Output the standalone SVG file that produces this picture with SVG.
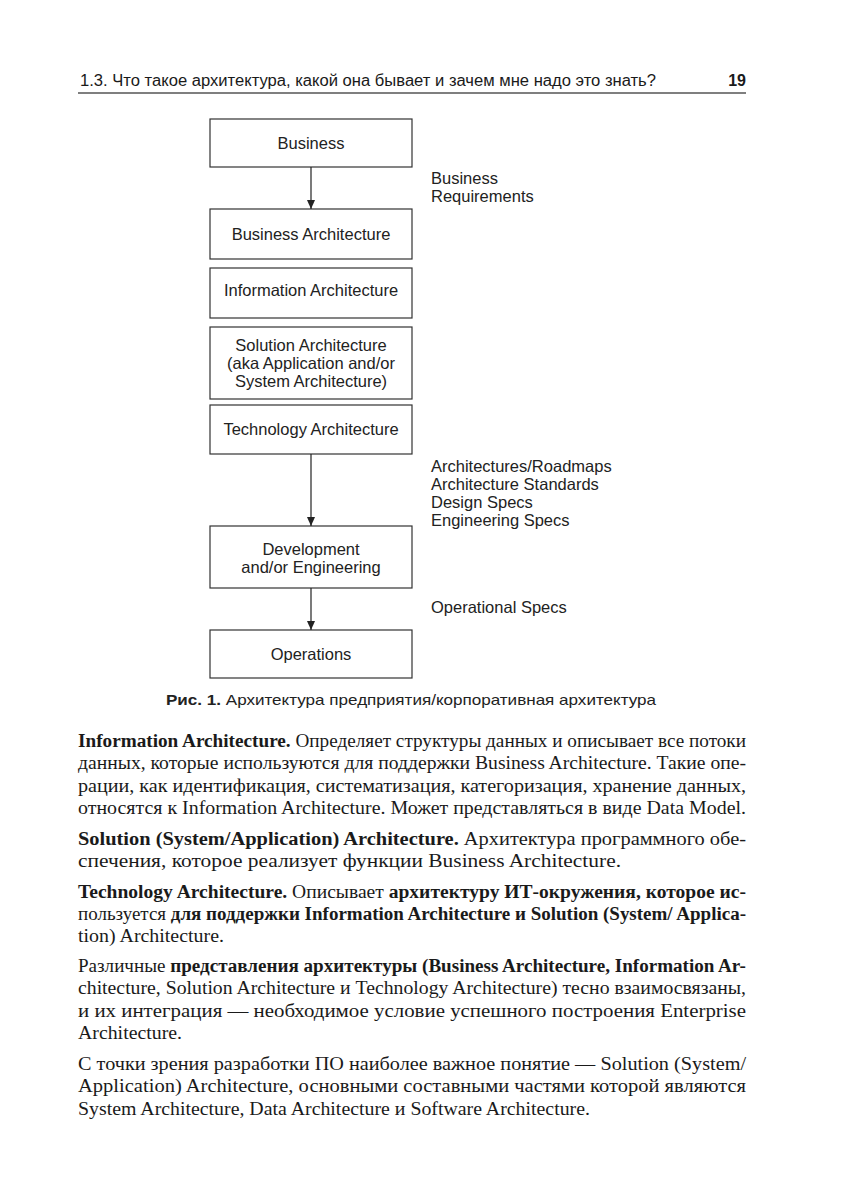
<svg xmlns="http://www.w3.org/2000/svg" width="849" height="1200" viewBox="0 0 849 1200">
<defs>
<style>
.hd{font-family:"Liberation Sans",Arial,sans-serif;font-size:16px;fill:#1a1a1a}
.bx{fill:#fff;stroke:#333;stroke-width:1.2}
.bt{font-family:"Liberation Sans",Arial,sans-serif;font-size:16.5px;fill:#222;text-anchor:middle}
.lb{font-family:"Liberation Sans",Arial,sans-serif;font-size:16.5px;fill:#222}
.cap{font-family:"Liberation Sans",Arial,sans-serif;font-size:15px;fill:#222}
.tx{font-family:"Liberation Serif","Times New Roman",serif;font-size:18.5px;fill:#1a1a1a}
.b{font-weight:bold}
.cn{stroke:#222;stroke-width:1.2;fill:none}
</style>
<marker id="ah" markerWidth="10" markerHeight="10" refX="9" refY="5" orient="auto" markerUnits="userSpaceOnUse">
<path d="M0,1 L9,5 L0,9 Z" fill="#222"/>
</marker>
</defs>
<rect width="849" height="1200" fill="#fff"/>
<g id="header">
<text class="hd" x="80" y="86" textLength="576" lengthAdjust="spacingAndGlyphs">1.3. Что такое архитектура, какой она бывает и зачем мне надо это знать?</text>
<text class="hd b" x="746" y="86" text-anchor="end">19</text>
<line x1="78" y1="93" x2="746" y2="93" stroke="#555" stroke-width="1.5"/>
</g>
<g id="n-business"><rect class="bx" x="210" y="119" width="202" height="48"/><text class="bt" x="311" y="149">Business</text></g>
<g id="n-busarch"><rect class="bx" x="210" y="209" width="202" height="50"/><text class="bt" x="311" y="240">Business Architecture</text></g>
<g id="n-infoarch"><rect class="bx" x="210" y="268" width="202" height="50"/><text class="bt" x="311" y="296">Information Architecture</text></g>
<g id="n-solarch"><rect class="bx" x="210" y="327" width="202" height="72"/><text class="bt" x="311" y="351">Solution Architecture</text><text class="bt" x="311" y="369">(aka Application and/or</text><text class="bt" x="311" y="387">System Architecture)</text></g>
<g id="n-techarch"><rect class="bx" x="210" y="405" width="202" height="49"/><text class="bt" x="311" y="435">Technology Architecture</text></g>
<g id="n-dev"><rect class="bx" x="210" y="526" width="202" height="62"/><text class="bt" x="311" y="555">Development</text><text class="bt" x="311" y="573">and/or Engineering</text></g>
<g id="n-ops"><rect class="bx" x="210" y="630" width="202" height="48"/><text class="bt" x="311" y="660">Operations</text></g>
<g id="connectors">
<line class="cn" x1="311" y1="167" x2="311" y2="209" marker-end="url(#ah)"/>
<line class="cn" x1="311" y1="454" x2="311" y2="526" marker-end="url(#ah)"/>
<line class="cn" x1="311" y1="588" x2="311" y2="630" marker-end="url(#ah)"/>
</g>
<g id="labels">
<text class="lb" x="431" y="184">Business</text>
<text class="lb" x="431" y="202">Requirements</text>
<text class="lb" x="431" y="472">Architectures/Roadmaps</text>
<text class="lb" x="431" y="490">Architecture Standards</text>
<text class="lb" x="431" y="508">Design Specs</text>
<text class="lb" x="431" y="526">Engineering Specs</text>
<text class="lb" x="431" y="613">Operational Specs</text>
</g>
<g id="caption">
<text class="cap" x="166" y="705" textLength="490" lengthAdjust="spacingAndGlyphs"><tspan class="b">Рис. 1.</tspan> Архитектура предприятия/корпоративная архитектура</text>
</g>
<g id="body">
<text class="tx" x="78" y="747" textLength="668" lengthAdjust="spacingAndGlyphs"><tspan class="b">Information Architecture.</tspan> Определяет структуры данных и описывает все потоки</text>
<text class="tx" x="78" y="769" textLength="668" lengthAdjust="spacingAndGlyphs">данных, которые используются для поддержки Business Architecture. Такие опе-</text>
<text class="tx" x="78" y="792" textLength="668" lengthAdjust="spacingAndGlyphs">рации, как идентификация, систематизация, категоризация, хранение данных,</text>
<text class="tx" x="78" y="814" textLength="668" lengthAdjust="spacingAndGlyphs">относятся к Information Architecture. Может представляться в виде Data Model.</text>
<text class="tx" x="78" y="845" textLength="668" lengthAdjust="spacingAndGlyphs"><tspan class="b">Solution (System/Application) Architecture.</tspan> Архитектура программного обе-</text>
<text class="tx" x="78" y="867" textLength="543" lengthAdjust="spacingAndGlyphs">спечения, которое реализует функции Business Architecture.</text>
<text class="tx" x="78" y="898" textLength="668" lengthAdjust="spacingAndGlyphs"><tspan class="b">Technology Architecture.</tspan> Описывает <tspan class="b">архитектуру ИТ-окружения, которое ис-</tspan></text>
<text class="tx" x="78" y="920" textLength="668" lengthAdjust="spacingAndGlyphs">пользуется <tspan class="b">для поддержки Information Architecture и Solution (System/ Applica-</tspan></text>
<text class="tx" x="78" y="942" textLength="146" lengthAdjust="spacingAndGlyphs">tion) Architecture.</text>
<text class="tx" x="78" y="972" textLength="668" lengthAdjust="spacingAndGlyphs">Различные <tspan class="b">представления архитектуры (Business Architecture, Information Ar-</tspan></text>
<text class="tx" x="78" y="994" textLength="668" lengthAdjust="spacingAndGlyphs">chitecture, Solution Architecture и Technology Architecture) тесно взаимосвязаны,</text>
<text class="tx" x="78" y="1017" textLength="668" lengthAdjust="spacingAndGlyphs">и их интеграция — необходимое условие успешного построения Enterprise</text>
<text class="tx" x="78" y="1039" textLength="104" lengthAdjust="spacingAndGlyphs">Architecture.</text>
<text class="tx" x="78" y="1070" textLength="668" lengthAdjust="spacingAndGlyphs">С точки зрения разработки ПО наиболее важное понятие — Solution (System/</text>
<text class="tx" x="78" y="1092" textLength="668" lengthAdjust="spacingAndGlyphs">Application) Architecture, основными составными частями которой являются</text>
<text class="tx" x="78" y="1115" textLength="512" lengthAdjust="spacingAndGlyphs">System Architecture, Data Architecture и Software Architecture.</text>
</g>
</svg>
